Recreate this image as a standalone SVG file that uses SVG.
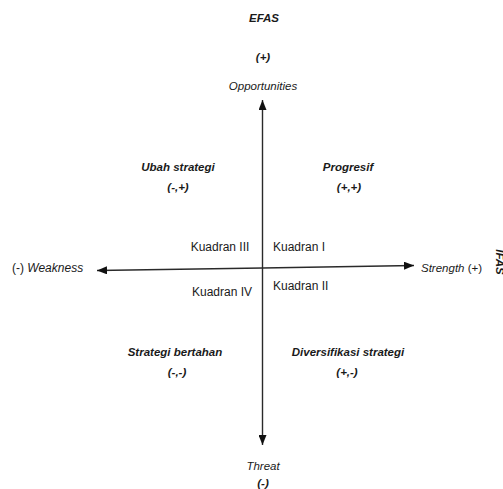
<svg xmlns="http://www.w3.org/2000/svg" width="503" height="489" viewBox="0 0 503 489">
<style>
text{font-family:"Liberation Sans",Arial,sans-serif;fill:#1a1a1a;font-size:11.5px}
.b{font-weight:bold;font-style:italic}
.i{font-style:italic}
.m{text-anchor:middle}
.k{font-size:12px}
.ax{stroke:#2a2a2a;stroke-width:1.4;fill:none}
</style>
<defs>
<marker id="ah" viewBox="0 0 10 8" refX="10" refY="4" markerWidth="10" markerHeight="8" markerUnits="userSpaceOnUse" orient="auto">
<path d="M0,0 L10,4 L0,8 Z" fill="#111"/>
</marker>
</defs>
<rect width="503" height="489" fill="#fff"/>
<g id="connectors">
<line class="ax" x1="262.5" y1="268" x2="262.5" y2="100" marker-end="url(#ah)"/>
<line class="ax" x1="262.5" y1="268" x2="262.5" y2="445" marker-end="url(#ah)"/>
<line class="ax" x1="262.5" y1="268" x2="97" y2="270.5" marker-end="url(#ah)"/>
<line class="ax" x1="262.5" y1="268" x2="414" y2="265.5" marker-end="url(#ah)"/>
</g>
<g id="efas"><text class="b m" x="264" y="22">EFAS</text></g>
<g id="efas-plus"><text class="b m" x="263" y="61">(+)</text></g>
<g id="opportunities"><text class="i m" x="263" y="90">Opportunities</text></g>
<g id="ubah"><text class="b m" x="178" y="171">Ubah strategi</text><text class="b m" x="178" y="191">(-,+)</text></g>
<g id="progresif"><text class="b m" x="348" y="171">Progresif</text><text class="b m" x="349" y="191">(+,+)</text></g>
<g id="k3"><text class="m k" x="220" y="251">Kuadran III</text></g>
<g id="k1"><text class="k" x="273" y="251">Kuadran I</text></g>
<g id="k4"><text class="m k" x="222" y="296">Kuadran IV</text></g>
<g id="k2"><text class="k" x="273" y="290">Kuadran II</text></g>
<g id="weakness"><text class="i k" x="12" y="272"><tspan font-style="normal">(-)</tspan>  Weakness</text></g>
<g id="strength"><text class="i" x="421" y="272">Strength <tspan font-style="normal">(+)</tspan></text></g>
<g id="ifas"><text class="b m" transform="translate(496,262) rotate(90)" x="0" y="0">IFAS</text></g>
<g id="bertahan"><text class="b m" x="175" y="356">Strategi bertahan</text><text class="b m" x="177" y="376">(-,-)</text></g>
<g id="diversifikasi"><text class="b m" x="348" y="356">Diversifikasi strategi</text><text class="b m" x="347" y="376">(+,-)</text></g>
<g id="threat"><text class="i m" x="263" y="470">Threat</text></g>
<g id="threat-minus"><text class="b m" x="263" y="487">(-)</text></g>
</svg>
